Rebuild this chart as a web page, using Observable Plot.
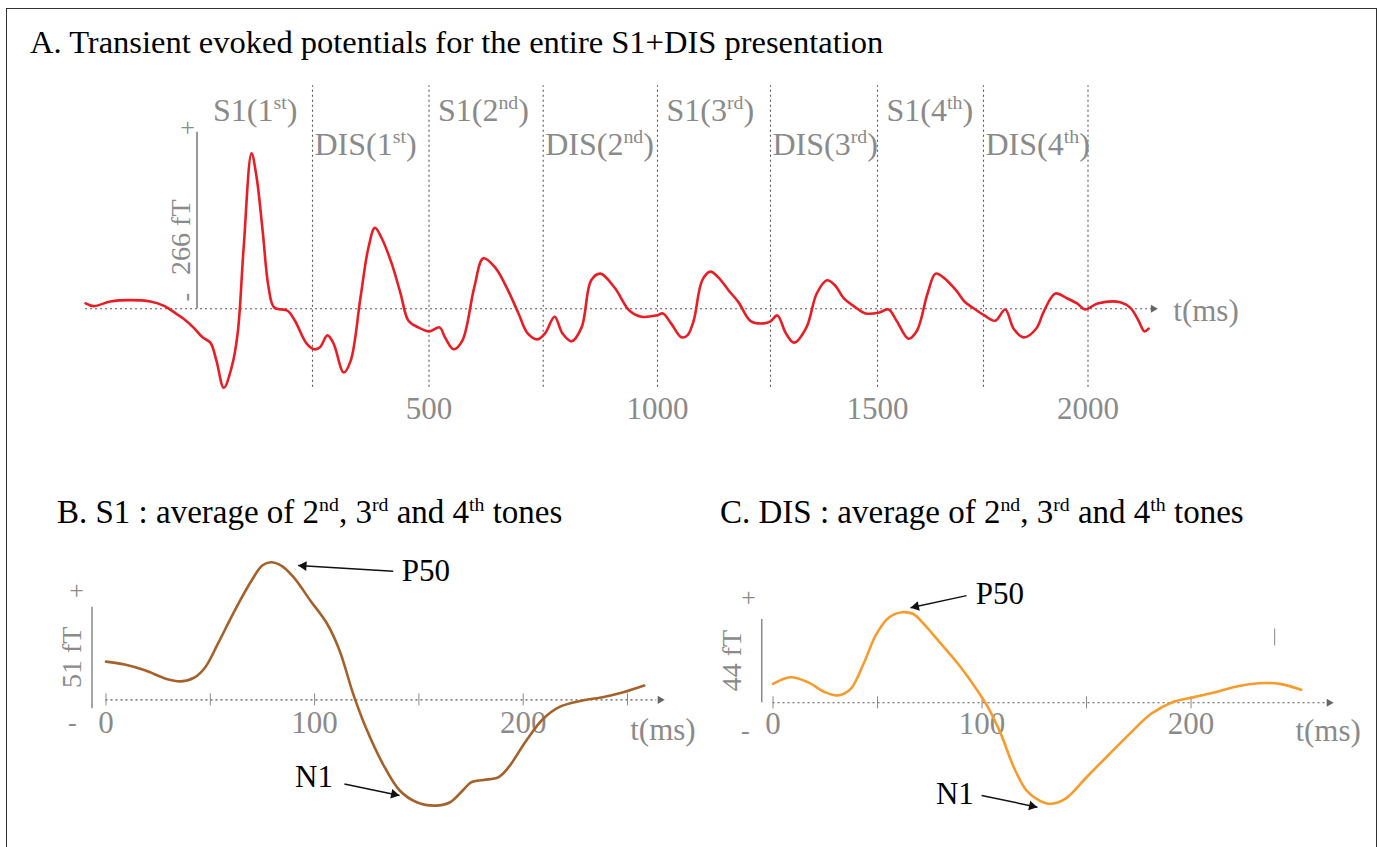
<!DOCTYPE html>
<html><head><meta charset="utf-8">
<script src="https://cdn.jsdelivr.net/npm/d3@7"></script>
<script src="https://cdn.jsdelivr.net/npm/@observablehq/plot@0.6"></script>
<style>
body{margin:0;background:#fff;}
#page{position:relative;width:1382px;height:847px;overflow:hidden;background:#fff;font-family:"Liberation Serif","Times New Roman",serif;}
.frame{position:absolute;left:6px;top:7.5px;width:1371px;height:900px;border:1.5px solid #333;box-sizing:border-box;}
.title{position:absolute;line-height:32px;color:#000;white-space:nowrap;}
.title sup{font-size:0.6em;line-height:0;vertical-align:0.6em;}
.panel{position:absolute;}
</style></head><body>
<div id="page">
<div class="frame"></div>
<div class="title" style="left:30px;top:26px;font-size:32.5px">A. Transient evoked potentials for the entire S1+DIS presentation</div>
<div class="title" style="left:57px;top:496px;font-size:33px">B. S1 : average of 2<sup>nd</sup>, 3<sup>rd</sup> and 4<sup>th</sup> tones</div>
<div class="title" style="left:720px;top:496px;font-size:33px">C. DIS : average of 2<sup>nd</sup>, 3<sup>rd</sup> and 4<sup>th</sup> tones</div>
<div class="panel" id="pA" style="left:0;top:80px"></div>
<div class="panel" id="pB" style="left:40px;top:540px"></div>
<div class="panel" id="pC" style="left:700px;top:540px"></div>
</div>
<script>
// ---------- Panel A: whole S1+DIS sequence (time in ms, field in fT)
const aTime = [
  -241,-224,-187,-146,-101,-70,-46,-29,-8,12,
  29,42,58,75,88,101,118,129,142,155,
  167,196,212,237,254,266,282,295,317,332,
  353,370,384,398,420,439,456,477,501,523,
  535,554,573,599,619,645,670,696,716,738,
  754,775,792,812,834,855,875,906,939,965,
  998,1012,1030,1053,1066,1080,1099,1117,1135,1157,
  1179,1207,1235,1250,1266,1286,1305,1334,1358,1382,
  1401,1421,1449,1472,1502,1526,1545,1573,1593,1618,
  1637,1656,1685,1705,1724,1752,1778,1802,1822,1846,
  1876,1895,1922,1949,1974,1993,2023,2077,2102,2121,
  2135,2145];
const aField = [
  8,4,11,13,11,4,-7,-15,-28,-43,
  -51,-78,-119,-88,-37,92,234,198,118,32,
  2,-3,-18,-52,-61,-58,-40,-52,-96,-78,
  17,92,122,107,68,23,-18,-28,-34,-28,
  -43,-61,-48,32,76,62,32,-7,-37,-46,
  -37,-12,-37,-49,-28,43,53,32,-3,-12,
  -10,-7,-22,-43,-40,-18,43,56,47,28,
  10,-19,-22,-19,-10,-37,-51,-28,23,43,
  35,16,2,-7,-6,-1,-18,-45,-33,23,
  53,47,28,11,2,-10,-18,-1,-30,-43,
  -30,-3,23,16,8,-1,8,10,1,-18,
  -34,-30];
const s1Onsets = [0, 500, 1000, 1500];
const disOnsets = [250, 750, 1250, 1750];
const dividers = [250, 500, 750, 1000, 1250, 1500, 1750, 2000];
const s1Labels = ["S1(1^st)", "S1(2^nd)", "S1(3^rd)", "S1(4^th)"];
const disLabels = ["DIS(1^st)", "DIS(2^nd)", "DIS(3^rd)", "DIS(4^th)"];
const aTicks = [500, 1000, 1500, 2000];
const aScaleBar = 266;

// ---------- Panel B: S1 average (2nd-4th)
const bTime = [0,9,19,29,36,42.5,47.6,53.6,61.7,69.8,
  74.9,79,84,90,98,106,112,118.5,124.5,132.7,
  140.8,149,158,165,171,175,181,188,193,201.5,
  209.6,217.7,228,238,248,258];
const bField = [19.2,17.7,14.7,10.5,9.3,11.3,16.4,28.1,44.8,59.9,
  67.4,69.1,67.4,61.5,49.8,38.2,24.7,3.0,-13.8,-32.1,
  -45.5,-51.4,-53.1,-51.4,-45.5,-41.4,-40.2,-38.9,-33.8,-20.4,
  -9.5,-3.4,-0.4,1.3,3.8,7.2];
const bScaleBar = 51;
const bTicks = [0, 50, 100, 150, 200, 250];
const bTickLabels = [0, 100, 200];

// ---------- Panel C: DIS average (2nd-4th)
const cTime = [0,8.4,16.6,24.9,31,37.2,43.3,49.5,55.6,61.8,
  66.9,72.1,80.3,88.5,96.7,102.8,109,115.2,121.3,127.5,
  132.6,139.8,150,160.3,170.6,180.9,191.1,201.4,211.6,221.9,
  232.2,242.4,252.7];
const cField = [10.0,13.5,10.9,5.6,3.9,7.4,20.6,36.4,45.2,47.8,
  47.0,41.7,31.2,20.6,8.2,-2.3,-16.4,-34.0,-46.3,-51.6,
  -53.3,-50.7,-39.3,-27.8,-16.4,-5.8,0.3,3.0,5.6,8.6,
  10.3,10.0,6.9];
const cScaleBar = 44;
const cTicks = [0, 50, 100, 150, 200];
const cTickLabels = [0, 100, 200];

// annotations (time ms, field fT)
const bP50 = {tx: 153.4, ty: 64.9, x1: 137.7, y1: 64.6, x2: 92.1, y2: 67.4};
const bN1  = {tx: 99.7, ty: -38.9, x1: 114.3, y1: -42.2, x2: 140.7, y2: -48.0};
const cP50 = {tx: 108.5, ty: 57.2, x1: 92.6, y1: 56.6, x2: 65.8, y2: 50.2};
const cN1  = {tx: 87, ty: -48, x1: 99.8, y1: -48.9, x2: 126.5, y2: -55.1};

const GRAY = "#8a8a8a", DOT = "#555", FONT = '"Liberation Serif","Times New Roman",serif';
const RED = "#e81e26", BROWN = "#a4622a", ORANGE = "#f79b2c";
const dotted = {stroke: DOT, strokeWidth: 1.1, strokeDasharray: "2,3"};

function txt(s, x, y, o = {}) {
  return Plot.text([s], {x: () => x, y: () => y, text: d => d, fill: GRAY, fontSize: 30, fontFamily: FONT, ...o});
}
// filled-head annotation arrow; the head direction is measured in screen space
function annot(a, label, xs, ys) {
  const px = xs(a.x2) - xs(a.x1), py = ys(a.y2) - ys(a.y1);
  const len = Math.hypot(px, py), ux = px / len, uy = py / len;
  const r = 3.6, back = 2 * Math.sqrt(Math.PI * r * r / (3 * Math.sqrt(3)));
  const angle = Math.atan2(ux, -uy) * 180 / Math.PI;
  return [
    txt(label, a.tx, a.ty, {fill: "#000", fontSize: 31}),
    Plot.link([a], {x1: "x1", y1: "y1", x2: "x2", y2: "y2", stroke: "#111", strokeWidth: 1.5}),
    Plot.dot([a], {x: "x2", y: "y2", symbol: "triangle", r, rotate: angle, fill: "#111", stroke: "none",
                   dx: -ux * back, dy: -uy * back})
  ];
}
const ns = "http://www.w3.org/2000/svg";
function supify(svg) {
  svg.querySelectorAll("text").forEach(t => {
    const s = t.textContent;
    if (!s.includes("^")) return;
    const g = t.closest("g[font-size]");
    const fs = g ? parseFloat(g.getAttribute("font-size")) : 30;
    const parts = s.split(/\^([a-z]+)/);
    t.textContent = "";
    let shifted = false;
    parts.forEach((p, i) => {
      if (!p) return;
      const ts = document.createElementNS(ns, "tspan");
      ts.textContent = p;
      if (i % 2 === 1) { ts.setAttribute("font-size", fs * 0.62); ts.setAttribute("dy", -fs * 0.38); shifted = true; }
      else if (shifted) { ts.setAttribute("dy", fs * 0.38); shifted = false; }
      t.appendChild(ts);
    });
  });
  return svg;
}
const baseStyle = {fontFamily: FONT, background: "none", overflow: "visible"};

// ----- Panel A
const aData = aTime.map((t, i) => ({t, v: aField[i]}));
const A = Plot.plot({
  width: 1382, height: 350, margin: 0, style: baseStyle,
  x: {type: "linear", axis: null,
      domain: [-250, 0, 250, 500, 750, 1000, 1250, 1500, 1750, 2000, 2250],
      range: [80.9, 196.5, 312, 428.5, 542.7, 657, 770, 877, 983, 1087.5, 1192]},
  y: {axis: null, domain: [-183.3, 343.8]},
  marks: [
    Plot.ruleX(dividers, {y1: -118, y2: 336, ...dotted}),
    Plot.ruleY([0], {x1: -241, x2: 2156, ...dotted}),
    Plot.dot([0], {x: () => 2156, y: () => 0, symbol: "triangle", rotate: 90, r: 3, fill: "#666", stroke: "none"}),
    Plot.ruleX([0], {y1: 0, y2: aScaleBar, stroke: "#777", strokeWidth: 1.5}),
    txt("+", 0, 273.5, {dx: -9.5, fontSize: 26}),
    txt(aScaleBar + " fT", 0, 107.8, {dx: -15.5, rotate: -90, fontSize: 28}),
    txt("-", 0, 17.5, {dx: -11.5, rotate: -90, fontSize: 26}),
    Plot.line(aData, {x: "t", y: "v", stroke: RED, strokeWidth: 2.6, curve: "catmull-rom"}),
    Plot.text(s1Onsets.slice(0, 1), {x: d => d, y: () => 297.6, text: () => s1Labels[0], dx: 16, textAnchor: "start", fill: GRAY, fontSize: 32, fontFamily: FONT}),
    Plot.text(s1Onsets.slice(1), {x: d => d, y: () => 297.6, text: (d, i) => s1Labels[i + 1], dx: 9, textAnchor: "start", fill: GRAY, fontSize: 32, fontFamily: FONT}),
    Plot.text(disOnsets, {x: d => d, y: () => 247.4, text: (d, i) => disLabels[i], dx: 2, textAnchor: "start", fill: GRAY, fontSize: 32, fontFamily: FONT}),
    Plot.text(aTicks, {x: d => d, y: () => -150.6, text: d => String(d), fill: GRAY, fontSize: 31, fontFamily: FONT}),
    txt("t(ms)", 2204, -3, {textAnchor: "start", fontSize: 31})
  ]
});
document.getElementById("pA").appendChild(A);
supify(A);

// ----- Panel B
const bData = bTime.map((t, i) => ({t, v: bField[i]}));
const bX = {domain: [-31.4, 285], range: [0, 660]}, bY = {domain: [-70.6, 80], range: [300, 0]};
const bxs = d3.scaleLinear(bX.domain, bX.range), bys = d3.scaleLinear(bY.domain, bY.range);
const B = Plot.plot({
  width: 660, height: 300, margin: 0, style: baseStyle,
  x: {axis: null, ...bX},
  y: {axis: null, ...bY},
  marks: [
    Plot.ruleY([0], {x1: 0, x2: 264, ...dotted}),
    Plot.dot([0], {x: () => 265.6, y: () => 0, symbol: "triangle", rotate: 90, r: 3, fill: "#666", stroke: "none"}),
    Plot.ruleX(bTicks, {y1: -3, y2: 3, stroke: "#888", strokeWidth: 1}),
    Plot.ruleX([-6.7], {y1: -4.5, y2: -4.5 + bScaleBar, stroke: "#888", strokeWidth: 1.5}),
    txt("+", -14.1, 54.9, {fontSize: 26}),
    txt(bScaleBar + " fT", -16.2, 21.4, {rotate: -90, fontSize: 28}),
    txt("-", -16.2, -11.7, {fontSize: 26}),
    Plot.text(bTickLabels, {x: d => d, y: () => -11.9, text: d => String(d), fill: GRAY, fontSize: 31, fontFamily: FONT}),
    txt("t(ms)", 267, -15.4, {fontSize: 31}),
    Plot.line(bData, {x: "t", y: "v", stroke: BROWN, strokeWidth: 2.6, curve: "catmull-rom"}),
    ...annot(bP50, "P50", bxs, bys),
    ...annot(bN1, "N1", bxs, bys)
  ]
});
document.getElementById("pB").appendChild(B);

// ----- Panel C
const cData = cTime.map((t, i) => ({t, v: cField[i]}));
const cX = {domain: [-34.7, 291.6], range: [0, 682]}, cY = {domain: [-72.7, 85.7], range: [300, 0]};
const cxs = d3.scaleLinear(cX.domain, cX.range), cys = d3.scaleLinear(cY.domain, cY.range);
const C = Plot.plot({
  width: 682, height: 300, margin: 0, style: baseStyle,
  x: {axis: null, ...cX},
  y: {axis: null, ...cY},
  marks: [
    Plot.ruleY([0], {x1: 0, x2: 265, ...dotted}),
    Plot.dot([0], {x: () => 266, y: () => 0, symbol: "triangle", rotate: 90, r: 3, fill: "#666", stroke: "none"}),
    Plot.ruleX(cTicks, {y1: -3.2, y2: 3.2, stroke: "#888", strokeWidth: 1}),
    Plot.ruleX([240], {y1: 30, y2: 39, stroke: "#888", strokeWidth: 1}),
    Plot.ruleX([-5.4], {y1: 0, y2: cScaleBar, stroke: "#888", strokeWidth: 1.5}),
    txt("+", -11.7, 55.6, {fontSize: 26}),
    txt(cScaleBar + " fT", -19.4, 22.3, {rotate: -90, fontSize: 28}),
    txt("-", -13.2, -14.6, {fontSize: 26}),
    Plot.text(cTickLabels, {x: d => d, y: () => -11, text: d => String(d), fill: GRAY, fontSize: 31, fontFamily: FONT}),
    txt("t(ms)", 265.6, -14.8, {fontSize: 31}),
    Plot.line(cData, {x: "t", y: "v", stroke: ORANGE, strokeWidth: 2.6, curve: "catmull-rom"}),
    ...annot(cP50, "P50", cxs, cys),
    ...annot(cN1, "N1", cxs, cys)
  ]
});
document.getElementById("pC").appendChild(C);
</script>
</body></html>
